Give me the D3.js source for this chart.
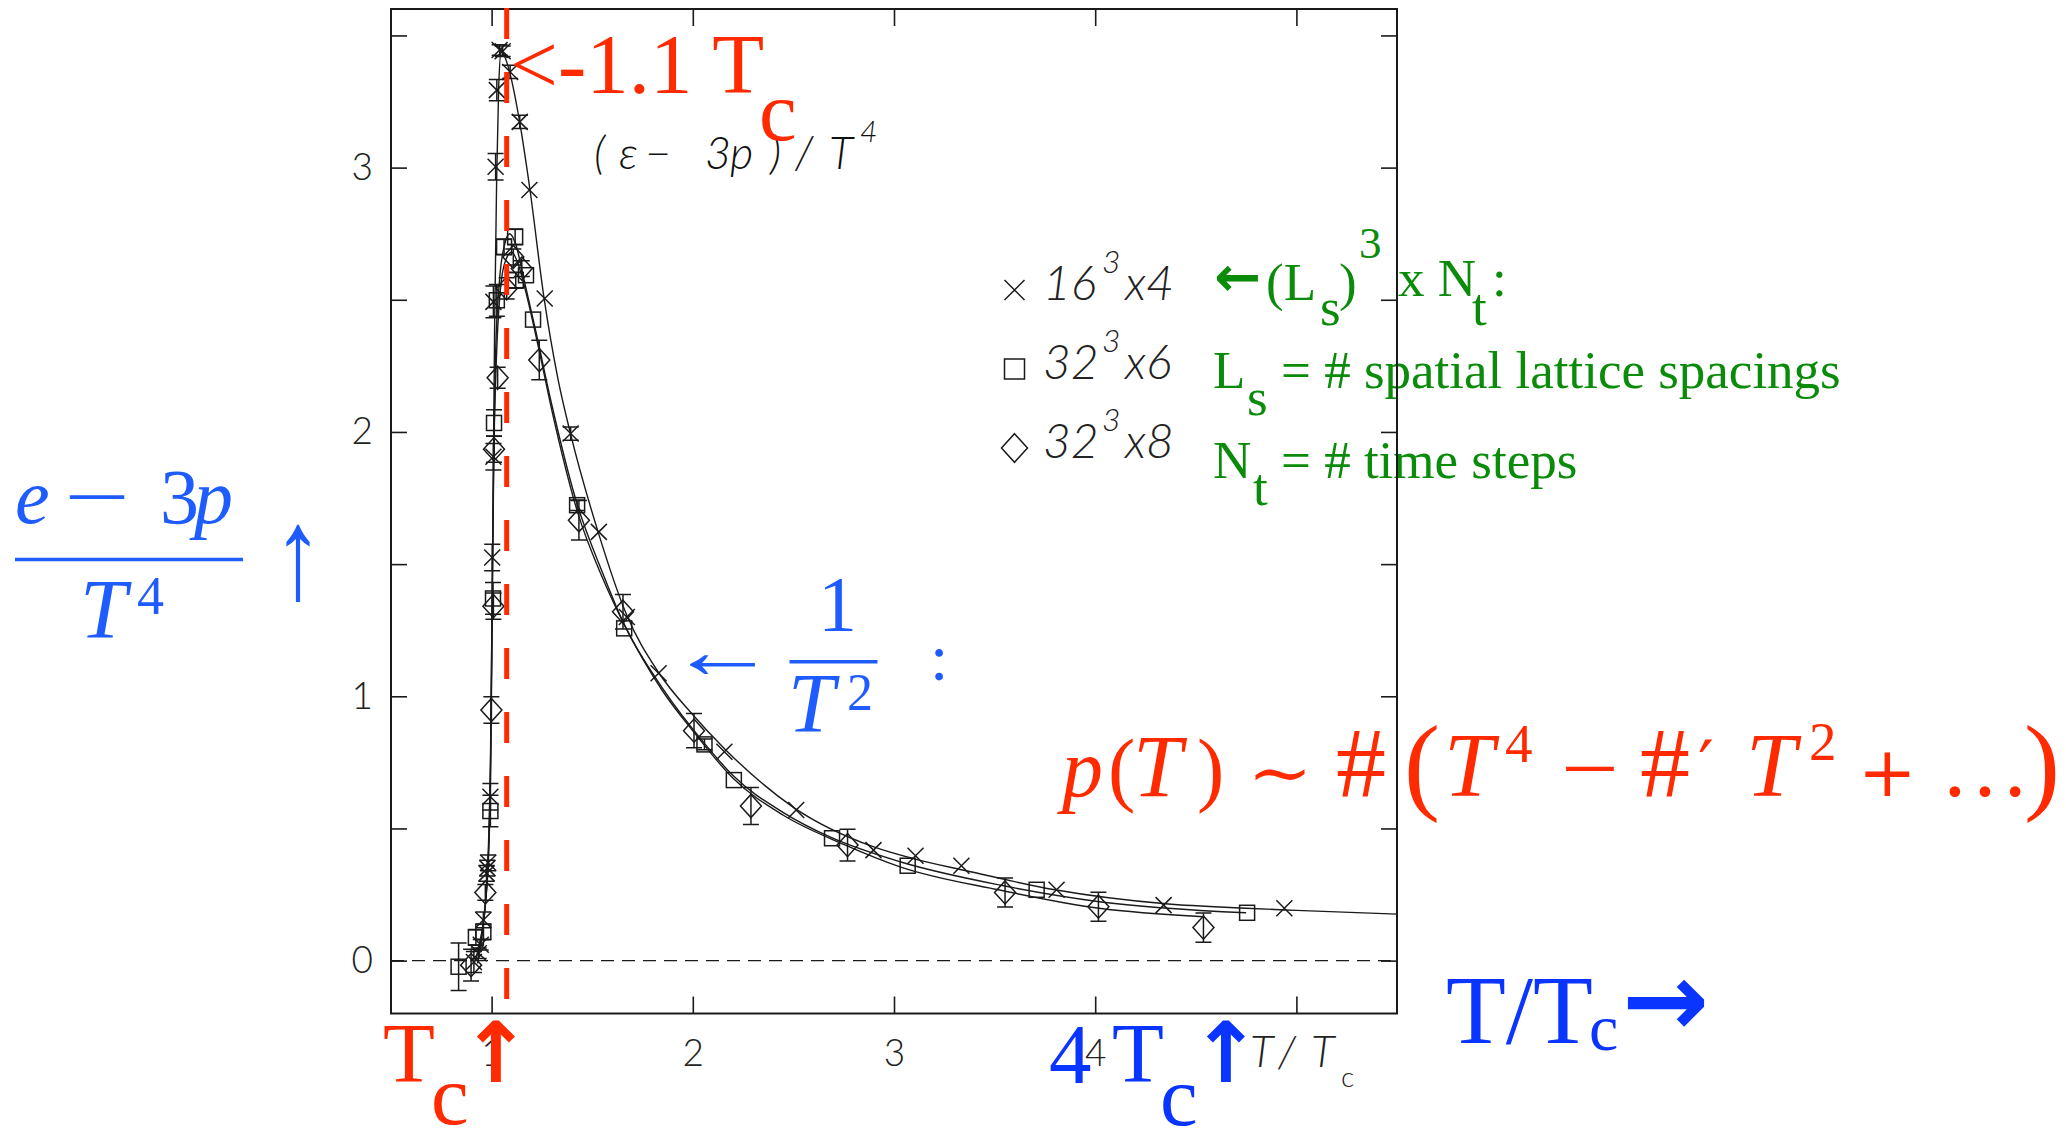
<!DOCTYPE html>
<html>
<head>
<meta charset="utf-8">
<script src="https://cdn.jsdelivr.net/npm/d3@7"></script>
<style>
  html, body { margin: 0; padding: 0; background: #fff; }
  svg { display: block; }
</style>
</head>
<body>
<svg id="chart" width="2066" height="1129"></svg>
<script>
// Lattice results for (e - 3p)/T^4 versus T/Tc : [T/Tc, value, error]
const lat16x4 = [
  [0.912, -0.005, 0.04], [0.936, 0.028, 0.02], [0.946, 0.06, 0.02],
  [0.959, 0.154, 0.03], [0.975, 0.33, 0.03], [0.979, 0.35, 0.03], [0.983, 0.37, 0.03],
  [0.994, 0.62, 0.05], [1.003, 1.525, 0.05], [1.009, 1.906, 0.05],
  [1.009, 2.492, 0.06], [1.020, 3.003, 0.05], [1.026, 3.293, 0.04],
  [1.040, 3.445, 0.02], [1.055, 3.440, 0.02], [1.092, 3.362, 0.025],
  [1.140, 3.173, 0.025], [1.188, 2.915, 0], [1.264, 2.505, 0],
  [1.393, 1.994, 0.025], [1.533, 1.622, 0], [1.672, 1.300, 0],
  [1.830, 1.087, 0], [2.157, 0.790, 0], [2.514, 0.570, 0],
  [2.898, 0.418, 0], [3.107, 0.397, 0], [3.335, 0.359, 0],
  [3.808, 0.268, 0], [4.340, 0.210, 0], [4.940, 0.198, 0]
];
const lat32x6 = [
  [0.836, -0.023, 0.09], [0.922, 0.088, 0.03], [0.959, 0.109, 0.03],
  [0.994, 0.566, 0.06], [1.007, 1.370, 0.06], [1.012, 2.034, 0.05],
  [1.026, 2.498, 0.06], [1.062, 2.700, 0.03], [1.117, 2.738, 0.03],
  [1.120, 2.574, 0.03], [1.171, 2.593, 0], [1.206, 2.425, 0],
  [1.425, 1.723, 0.02], [1.659, 1.257, 0], [2.058, 0.818, 0.02],
  [2.204, 0.683, 0], [2.692, 0.463, 0], [3.068, 0.359, 0],
  [3.709, 0.268, 0], [4.755, 0.181, 0]
];
const lat32x8 = [
  [0.898, -0.017, 0.06], [0.969, 0.258, 0.03], [0.999, 0.948, 0.05],
  [1.009, 1.341, 0.05], [1.012, 1.935, 0.05], [1.030, 2.205, 0.04],
  [1.075, 2.543, 0.04], [1.108, 2.662, 0.03], [1.150, 2.618, 0.03],
  [1.237, 2.272, 0.075], [1.434, 1.666, 0.075], [1.653, 1.320, 0.065],
  [2.006, 0.870, 0.065], [2.289, 0.585, 0.07], [2.769, 0.437, 0.06],
  [3.552, 0.258, 0.055], [4.016, 0.204, 0.055], [4.538, 0.125, 0.055]
];

// Interpolating curves drawn through each lattice set
const fit16x4 = [
  [0.93, -0.01], [0.95, 0.08], [0.97, 0.22], [0.985, 0.40], [0.995, 0.70],
  [1.002, 1.2], [1.008, 1.8], [1.015, 2.4], [1.025, 2.95], [1.035, 3.3],
  [1.048, 3.44], [1.065, 3.42], [1.09, 3.36], [1.14, 3.17], [1.19, 2.92],
  [1.26, 2.51], [1.33, 2.2], [1.39, 2.0], [1.53, 1.62], [1.67, 1.31],
  [1.83, 1.09], [2.0, 0.93], [2.16, 0.80], [2.5, 0.58], [2.9, 0.43],
  [3.1, 0.385], [3.36, 0.34], [3.8, 0.268], [4.35, 0.215], [4.75, 0.198],
  [5.0, 0.19], [5.5, 0.176]
];
const fit32x6 = [
  [0.92, 0.0], [0.95, 0.10], [0.97, 0.22], [0.985, 0.42], [0.995, 0.75],
  [1.002, 1.3], [1.01, 1.9], [1.02, 2.3], [1.04, 2.58], [1.065, 2.71],
  [1.09, 2.75], [1.12, 2.71], [1.16, 2.58], [1.22, 2.38], [1.3, 2.1],
  [1.42, 1.74], [1.55, 1.47], [1.66, 1.27], [1.85, 1.03], [2.06, 0.82],
  [2.2, 0.70], [2.45, 0.56], [2.69, 0.465], [3.03, 0.374], [3.525, 0.286],
  [4.02, 0.223], [4.75, 0.181]
];
const fit32x8 = [
  [0.92, 0.0], [0.95, 0.10], [0.97, 0.23], [0.985, 0.45], [0.995, 0.8],
  [1.003, 1.4], [1.012, 1.95], [1.025, 2.3], [1.045, 2.55], [1.07, 2.65],
  [1.10, 2.68], [1.13, 2.64], [1.17, 2.53], [1.23, 2.33], [1.3, 2.08],
  [1.43, 1.69], [1.55, 1.45], [1.66, 1.27], [1.85, 1.02], [2.01, 0.86],
  [2.2, 0.69], [2.45, 0.55], [2.75, 0.44], [3.03, 0.355], [3.525, 0.267],
  [4.02, 0.198], [4.54, 0.166]
];

const xTicks = [1, 2, 3, 4, 5];
const xTickLabels = ["1", "2", "3", "4", ""];
const yTicks = [0, 0.5, 1, 1.5, 2, 2.5, 3, 3.5];
const yTickLabels = ["0", "", "1", "", "2", "", "3", ""];

const legendLs = ["16", "32", "32"];
const legendNt = ["4", "6", "8"];
const legendSymbols = ["cross", "square", "diamond"];

const tcLine = 1.075;          // position of the 1.1 Tc marker line
const zeroLevel = 0;

const RED = "#ff2a00", BLUE_L = "#1f5cff", BLUE_D = "#0a34ff", GREEN = "#0a8c0a", INK = "#1a1a1a";
const SERIF = "'Liberation Serif', 'Times New Roman', serif";
const DSERIF = "'DejaVu Serif', serif";
const THIN = "Lato, Roboto, 'Open Sans', sans-serif";
const ARROW = "'DejaVu Sans', sans-serif";

const svg = d3.select("#chart");
const x = d3.scaleLinear().domain([0.5, 5.5]).range([391, 1397]);
const y = d3.scaleLinear().domain([-0.2, 3.6]).range([1013.5, 9]);

// ---- axes (ticks point inward) ----
function styleAxis(g) {
  g.select(".domain").remove();
  g.selectAll(".tick line").attr("stroke", INK).attr("stroke-width", 1.6);
  g.selectAll(".tick text").attr("fill", "#222").attr("font-family", THIN)
    .attr("font-weight", 300).attr("font-size", 37);
}
svg.append("g").attr("transform", `translate(0,${y(-0.2)})`)
  .call(d3.axisBottom(x).tickValues(xTicks).tickSize(-17).tickPadding(26)
    .tickFormat((d, i) => xTickLabels[i])).call(styleAxis);
svg.append("g").attr("transform", `translate(0,${y(3.6)})`)
  .call(d3.axisTop(x).tickValues(xTicks).tickSize(-17).tickFormat(() => "")).call(styleAxis);
svg.append("g").attr("transform", `translate(${x(0.5)},0)`)
  .call(d3.axisLeft(y).tickValues(yTicks).tickSize(-16).tickPadding(18)
    .tickFormat((d, i) => yTickLabels[i])).call(styleAxis);
svg.append("g").attr("transform", `translate(${x(5.5)},0)`)
  .call(d3.axisRight(y).tickValues(yTicks).tickSize(-16).tickFormat(() => "")).call(styleAxis);

// zero reference
svg.append("line")
  .attr("x1", x(0.5)).attr("x2", x(5.5)).attr("y1", y(zeroLevel)).attr("y2", y(zeroLevel))
  .attr("stroke", INK).attr("stroke-width", 1.4).attr("stroke-dasharray", "13 8");

// ---- curves ----
const line = d3.line().x(d => x(d[0])).y(d => y(d[1])).curve(d3.curveMonotoneX);
[fit16x4, fit32x6, fit32x8].forEach(f => {
  svg.append("path").attr("d", line(f)).attr("fill", "none")
    .attr("stroke", INK).attr("stroke-width", 1.4);
});

// ---- markers ----
function marker(g, type, cx, cy, s) {
  if (type === "cross") {
    g.append("path").attr("d", `M${cx - s},${cy - s}L${cx + s},${cy + s}M${cx - s},${cy + s}L${cx + s},${cy - s}`);
  } else if (type === "square") {
    g.append("rect").attr("x", cx - s).attr("y", cy - s).attr("width", 2 * s).attr("height", 2 * s);
  } else {
    g.append("path").attr("d", `M${cx},${cy - s * 1.1}L${cx + s},${cy}L${cx},${cy + s * 1.1}L${cx - s},${cy}Z`);
  }
}
const markSize = { cross: 8, square: 7.5, diamond: 10.5 };
[[lat16x4, "cross"], [lat32x6, "square"], [lat32x8, "diamond"]].forEach(([data, type]) => {
  const g = svg.append("g").attr("fill", "none").attr("stroke", INK).attr("stroke-width", 1.5);
  data.forEach(([tx, v, e]) => {
    const cx = x(tx), cy = y(v);
    if (e > 0) {
      const y0 = y(v - e), y1 = y(v + e);
      g.append("path").attr("d", `M${cx},${y0}L${cx},${y1}M${cx - 8},${y0}L${cx + 8},${y0}M${cx - 8},${y1}L${cx + 8},${y1}`);
    }
    marker(g, type, cx, cy, markSize[type]);
  });
});

// ---- text helpers ----
function words(parts, common) {
  const t = svg.append("text");
  Object.entries(common).forEach(([k, v]) => t.attr(k, v));
  parts.forEach(p => {
    const s = t.append("tspan").attr("x", p.x).attr("y", p.y).text(p.t);
    ["font-size", "font-style", "font-family", "font-weight"].forEach(k => { if (p[k]) s.attr(k, p[k]); });
  });
  return t;
}
// a single glyph placed with its own stretch
function glyph(str, tx, ty, sx, sy, attrs) {
  const t = svg.append("text").attr("x", 0).attr("y", 0)
    .attr("transform", `translate(${tx},${ty}) scale(${sx},${sy})`).text(str);
  Object.entries(attrs).forEach(([k, v]) => t.attr(k, v));
  return t;
}

// curve caption
words([
  { t: "(", x: 594, y: 169 }, { t: "ε", x: 619, y: 169 }, { t: "−", x: 645, y: 169 },
  { t: "3", x: 705, y: 169 }, { t: "p", x: 730, y: 169 }, { t: ")", x: 770, y: 169 },
  { t: "/", x: 795, y: 169 }, { t: "T", x: 829, y: 169 },
  { t: "4", x: 860, y: 142, "font-size": 30 }
], { "font-family": THIN, "font-weight": 300, "font-style": "italic", "font-size": 45, fill: "#111" });

// axis caption T/Tc
words([
  { t: "T", x: 1250, y: 1067 }, { t: "/", x: 1278, y: 1067 }, { t: "T", x: 1311, y: 1067 },
  { t: "c", x: 1341, y: 1087, "font-size": 28, "font-style": "normal" }
], { "font-family": THIN, "font-weight": 300, "font-style": "italic", "font-size": 44, fill: "#222" });

// ---- legend ----
legendSymbols.forEach((type, i) => {
  const cy = 290 + i * 79;
  const g = svg.append("g").attr("fill", "none").attr("stroke", INK).attr("stroke-width", 1.5);
  marker(g, type, 1014.5, cy, type === "diamond" ? 13 : 10);
  words([
    { t: legendLs[i], x: 1043, y: cy + 10 },
    { t: "3", x: 1102, y: cy - 17, "font-size": 32 },
    { t: "x" + legendNt[i], x: 1125, y: cy + 10 }
  ], { "font-family": THIN, "font-weight": 300, "font-style": "italic", "font-size": 48, fill: "#222" });
});

// lattice notation (green)
const gs = { "font-family": SERIF, "font-size": 53, fill: GREEN };
words([
  { t: "←", x: 1214, y: 296, "font-family": ARROW, "font-weight": "bold", "font-size": 56 },
  { t: "(L", x: 1266, y: 300 }, { t: "s", x: 1320, y: 325 }, { t: ")", x: 1339, y: 300 },
  { t: "3", x: 1359, y: 258, "font-size": 45 },
  { t: "x N", x: 1398, y: 296 }, { t: "t", x: 1472, y: 325 }, { t: ":", x: 1492, y: 296 }
], gs);
words([
  { t: "L", x: 1213, y: 388 }, { t: "s", x: 1247, y: 415 },
  { t: "= # spatial lattice spacings", x: 1281, y: 388 }
], gs);
words([
  { t: "N", x: 1213, y: 478 }, { t: "t", x: 1253, y: 505 },
  { t: "= # time steps", x: 1281, y: 478 }
], gs);

// frame
svg.append("rect").attr("x", x(0.5)).attr("y", y(3.6))
  .attr("width", x(5.5) - x(0.5)).attr("height", y(-0.2) - y(3.6))
  .attr("fill", "none").attr("stroke", INK).attr("stroke-width", 2);

// red dashed marker line at ~1.1 Tc
svg.append("line")
  .attr("x1", x(tcLine)).attr("x2", x(tcLine)).attr("y1", y(3.6) - 1).attr("y2", y(-0.145))
  .attr("stroke", RED).attr("stroke-width", 5).attr("stroke-dasharray", "31 33");

// red annotations
words([{ t: "<-1.1 T", x: 510, y: 93 }, { t: "c", x: 759, y: 140 }],
  { "font-family": SERIF, "font-size": 85, fill: RED });
words([{ t: "T", x: 383, y: 1082 }, { t: "c", x: 431, y: 1124 }],
  { "font-family": SERIF, "font-size": 85, fill: RED });
words([{ t: "↑", x: 496, y: 1082 }],
  { "font-family": ARROW, "font-weight": "bold", "font-size": 84, fill: RED, "text-anchor": "middle" });

// pressure expansion
const rf = { "font-family": SERIF, "font-size": 82, fill: RED };
words([
  { t: "p", x: 1062, y: 796, "font-style": "italic" },
  { t: "(", x: 1108, y: 796 },
  { t: "T", x: 1133, y: 796, "font-style": "italic", "font-size": 88 },
  { t: ")", x: 1197, y: 796 },
  { t: "#", x: 1336, y: 796, "font-size": 100 },
  { t: "(", x: 1404, y: 800, "font-size": 108 },
  { t: "T", x: 1444, y: 796, "font-style": "italic", "font-size": 90 },
  { t: "4", x: 1505, y: 762, "font-size": 55 },
  { t: "#", x: 1640, y: 796, "font-size": 100 },
  { t: "′", x: 1698, y: 790, "font-size": 70, "font-family": DSERIF },
  { t: "T", x: 1746, y: 796, "font-style": "italic", "font-size": 90 },
  { t: "2", x: 1809, y: 760, "font-size": 55 },
  { t: "+", x: 1858, y: 796, "font-family": DSERIF, "font-size": 70 },
  { t: "…", x: 1940, y: 796, "font-size": 90 },
  { t: ")", x: 2024, y: 800, "font-size": 108 }
], rf);
glyph("∼", 1280, 796, 1.15, 1, { "font-family": DSERIF, "font-size": 68, fill: RED, "text-anchor": "middle" });
glyph("−", 1590, 796, 1.25, 1, { "font-family": SERIF, "font-size": 82, fill: RED, "text-anchor": "middle" });

// blue annotations
words([{ t: "4", x: 1049, y: 1083 }, { t: "T", x: 1112, y: 1082 }, { t: "c", x: 1160, y: 1125 }],
  { "font-family": SERIF, "font-size": 85, fill: BLUE_D });
words([{ t: "↑", x: 1226, y: 1082 }],
  { "font-family": ARROW, "font-weight": "bold", "font-size": 84, fill: BLUE_D, "text-anchor": "middle" });
words([{ t: "T/T", x: 1446, y: 1043 }, { t: "c", x: 1589, y: 1050, "font-size": 66 },
  { t: "→", x: 1622, y: 1036, "font-family": ARROW, "font-weight": "bold", "font-size": 104 }],
  { "font-family": SERIF, "font-size": 98, fill: BLUE_D });

// vertical axis quantity
const bf = { "font-family": SERIF, "font-size": 78, fill: BLUE_L };
words([
  { t: "e", x: 15, y: 523, "font-style": "italic" },
  { t: "3", x: 160, y: 523 },
  { t: "p", x: 194, y: 523, "font-style": "italic" },
  { t: "T", x: 80, y: 638, "font-style": "italic", "font-size": 84 },
  { t: "4", x: 137, y: 614, "font-size": 54 }
], bf);
glyph("−", 97, 523, 1.5, 1, { "font-family": SERIF, "font-size": 78, fill: BLUE_L, "text-anchor": "middle" });
glyph("↑", 298, 598, 1.1, 1.45, { "font-family": SERIF, "font-size": 90, fill: BLUE_L, "text-anchor": "middle" });
svg.append("line").attr("x1", 15).attr("x2", 243).attr("y1", 559.5).attr("y2", 559.5)
  .attr("stroke", BLUE_L).attr("stroke-width", 3.5);

// 1/T^2 remark
glyph("←", 668, 678, 1.37, 1, { "font-family": SERIF, "font-size": 80, fill: BLUE_L });
words([
  { t: "1", x: 818, y: 630 },
  { t: "T", x: 788, y: 732, "font-style": "italic", "font-size": 84 },
  { t: "2", x: 847, y: 710, "font-size": 52 },
  { t: ":", x: 930, y: 680, "font-size": 66 }
], bf);
svg.append("line").attr("x1", 789.5).attr("x2", 877.5).attr("y1", 661.7).attr("y2", 661.7)
  .attr("stroke", BLUE_L).attr("stroke-width", 3.5);
</script>
</body>
</html>
